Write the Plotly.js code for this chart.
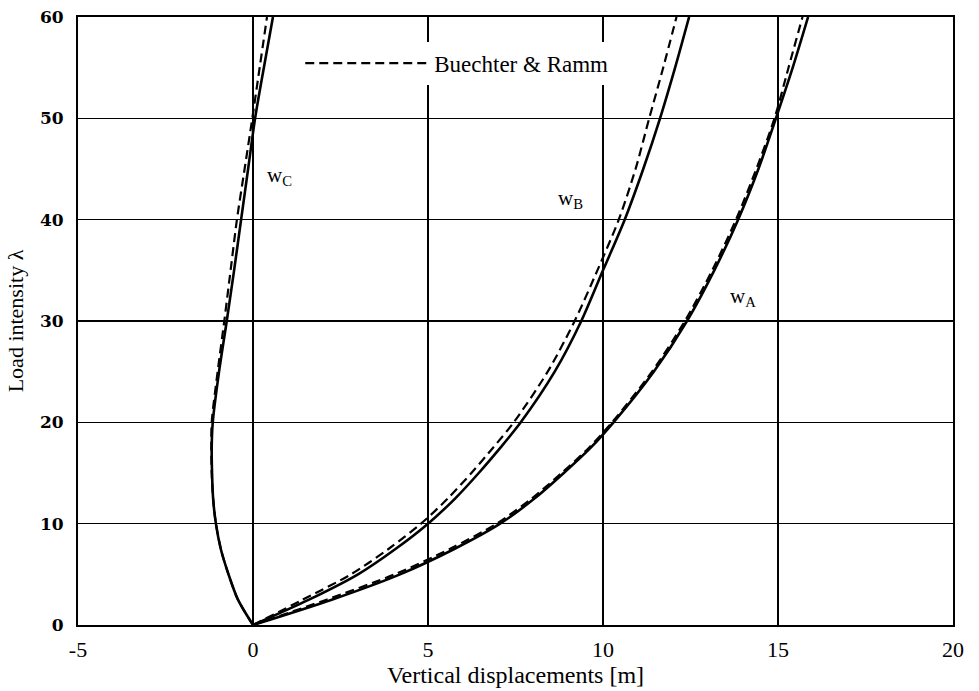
<!DOCTYPE html>
<html>
<head>
<meta charset="utf-8">
<script src="https://cdn.plot.ly/plotly-3.0.1.min.js"></script>
<style>html,body{margin:0;padding:0;background:#fff;}#chart{width:979px;height:691px;}</style>
</head>
<body>
<div id="chart"></div>
<script>
// Load intensity values (lambda) and vertical displacements [m]
const lamC = [0, 2.5, 5, 7.5, 10, 12.5, 15, 17.5, 20, 25, 30, 35, 40, 45, 50, 55, 60];
const wC   = [0, -0.43, -0.70, -0.92, -1.06, -1.14, -1.17, -1.18, -1.15, -0.97, -0.75, -0.54, -0.34, -0.14, 0.06, 0.31, 0.57];
const wCref= [0, -0.43, -0.70, -0.92, -1.06, -1.14, -1.18, -1.19, -1.18, -1.01, -0.82, -0.64, -0.46, -0.24, -0.02, 0.19, 0.40];

const lamB = [0, 2.5, 5, 7.5, 10, 12.5, 15, 17.5, 20, 25, 30, 35, 40, 45, 50, 55, 60];
const wB   = [0, 1.60, 3.00, 4.07, 5.00, 5.78, 6.45, 7.07, 7.65, 8.62, 9.38, 10.00, 10.62, 11.15, 11.63, 12.06, 12.46];
const wBref= [0, 1.42, 2.80, 3.87, 4.80, 5.57, 6.24, 6.86, 7.45, 8.42, 9.19, 9.84, 10.45, 10.93, 11.32, 11.72, 12.10];

const lamA = [0, 2.5, 5, 7.5, 10, 12.5, 15, 17.5, 20, 25, 30, 35, 40, 45, 50, 55, 60];
const wA   = [0, 2.25, 4.20, 5.75, 7.06, 8.05, 8.88, 9.65, 10.30, 11.45, 12.40, 13.18, 13.86, 14.44, 14.94, 15.42, 15.86];
const wAref= [0, 2.10, 4.05, 5.62, 6.96, 7.97, 8.82, 9.60, 10.26, 11.40, 12.34, 13.12, 13.80, 14.38, 14.90, 15.30, 15.70];

const labels = ['w<sub>C</sub>', 'w<sub>B</sub>', 'w<sub>A</sub>'];
const labelX = [0.34, 8.66, 13.57];
const labelY = [44.3, 42.0, 32.4];

const xTicks = [-5, 0, 5, 10, 15, 20];
const yTicks = [0, 10, 20, 30, 40, 50, 60];

const solid = {color: '#000', width: 2.6, shape: 'spline', smoothing: 0.8};
const dashed = {color: '#000', width: 2.2, dash: '9px,5px', shape: 'spline', smoothing: 0.8};

const traces = [
  {x: wC, y: lamC, mode: 'lines', line: solid, showlegend: false, name: 'w_C'},
  {x: wB, y: lamB, mode: 'lines', line: solid, showlegend: false, name: 'w_B'},
  {x: wA, y: lamA, mode: 'lines', line: solid, showlegend: false, name: 'w_A'},
  {x: wCref, y: lamC, mode: 'lines', line: dashed, showlegend: true, name: 'Buechter &amp; Ramm', legendgroup: 'ref'},
  {x: wBref, y: lamB, mode: 'lines', line: dashed, showlegend: false, legendgroup: 'ref'},
  {x: wAref, y: lamA, mode: 'lines', line: dashed, showlegend: false, legendgroup: 'ref'}
];

const serif = '"Liberation Serif", "Times New Roman", serif';

const layout = {
  width: 979, height: 691,
  margin: {l: 78, r: 26, t: 17, b: 66},
  paper_bgcolor: '#fff', plot_bgcolor: '#fff',
  showlegend: true,
  legend: {
    x: 0.254, y: 0.924, xanchor: 'left', yanchor: 'middle',
    bgcolor: '#fff', borderwidth: 0,
    font: {family: serif, size: 23, color: '#000'},
    itemwidth: 124
  },
  xaxis: {
    range: [-5, 20], tickvals: xTicks, ticktext: xTicks.map(String),
    showgrid: true, gridcolor: '#000', gridwidth: 1.6,
    zeroline: false, showline: true, linecolor: '#000', linewidth: 2, mirror: true,
    ticks: '', ticklabelstandoff: 4,
    tickfont: {family: serif, size: 22, color: '#000'},
    title: {text: 'Vertical displacements [m]', font: {family: serif, size: 24, color: '#000'}, standoff: 4}
  },
  yaxis: {
    range: [0, 60], tickvals: yTicks, ticktext: yTicks.map(String),
    showgrid: true, gridcolor: '#000', gridwidth: 1.6,
    zeroline: false, showline: true, linecolor: '#000', linewidth: 2, mirror: true,
    ticks: '', ticklabelstandoff: 9,
    tickfont: {family: '"DejaVu Serif", serif', size: 17, weight: 'bold', color: '#000'},
    title: {text: 'Load intensity λ', font: {family: serif, size: 22, color: '#000'}, standoff: 10}
  },
  annotations: labels.map((t, i) => ({
    x: labelX[i], y: labelY[i], xref: 'x', yref: 'y', text: t, showarrow: false,
    xanchor: 'left', yanchor: 'middle', font: {family: serif, size: 21, color: '#000'}
  }))
};

Plotly.newPlot('chart', traces, layout, {displayModeBar: false, staticPlot: true});
</script>
</body>
</html>
